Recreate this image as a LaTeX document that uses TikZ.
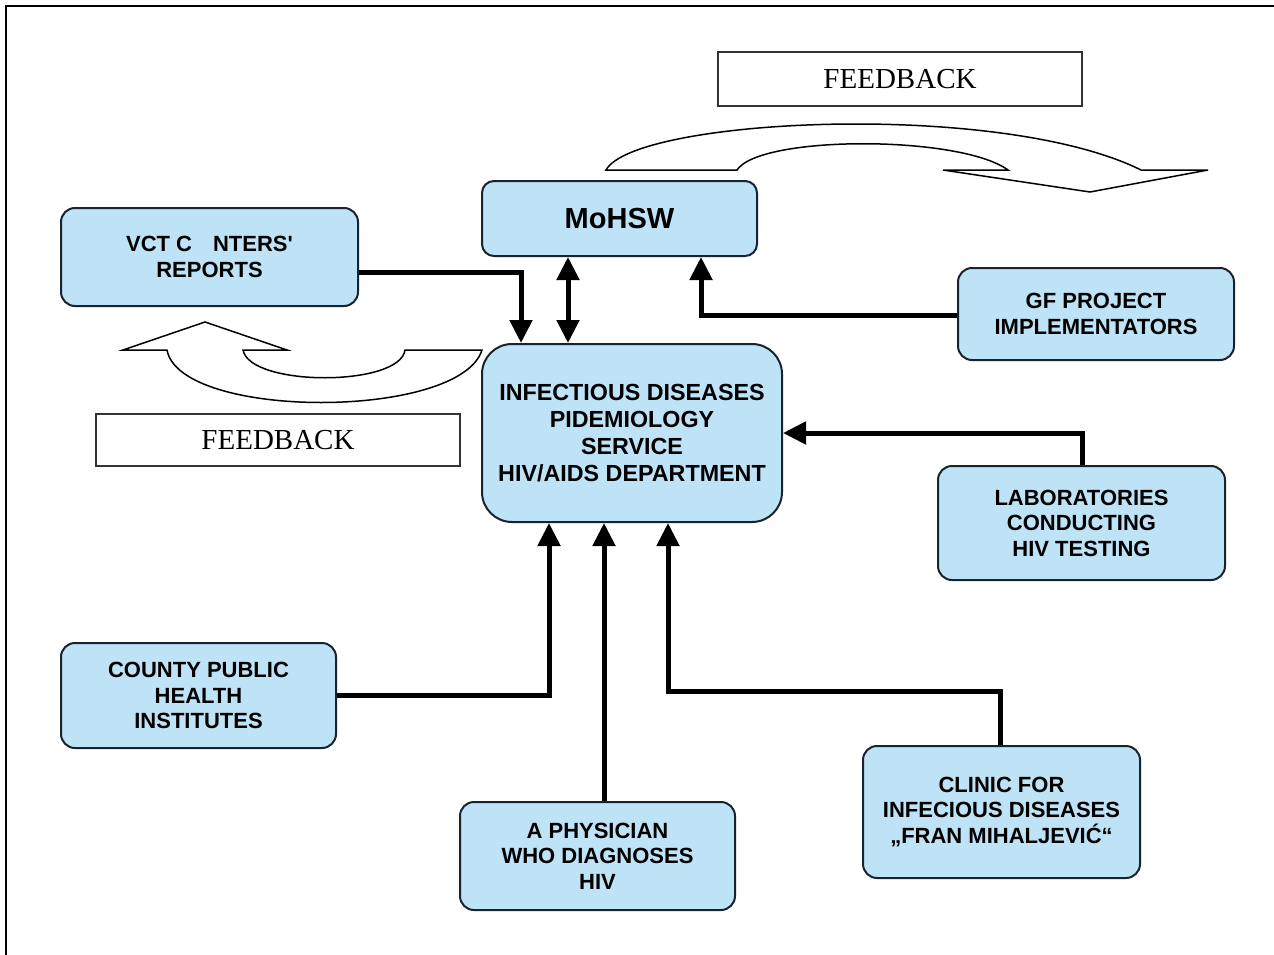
\documentclass[tikz,border=0pt]{standalone}
\usepackage{fontspec}
\setmainfont{Liberation Sans}
\newfontfamily\rawsans{Liberation Sans}
\newfontfamily\fbfont{Liberation Serif}
\usetikzlibrary{arrows.meta}
\definecolor{boxfill}{RGB}{190,227,247}
\definecolor{boxline}{RGB}{25,35,45}
\tikzset{
  box/.style={draw=boxline, line width=2pt, fill=boxfill, rounded corners=14pt, align=center, inner sep=0pt,
    font=\fontsize{22}{25.5}\selectfont\bfseries},
  fbbox/.style={draw=black!80, line width=1.2pt, fill=white, inner sep=0pt, font=\fbfont\fontsize{29}{32}\selectfont},
  conn/.style={line width=5pt, -{Triangle[length=23pt,width=22pt]}},
  conn2/.style={line width=5pt, {Triangle[length=23pt,width=22pt]}-{Triangle[length=23pt,width=22pt]}},
  fbarrow/.style={draw=black, line width=1.5pt, fill=white, line join=miter}
}
\begin{document}
\begin{tikzpicture}[x=1pt,y=-1pt]
\useasboundingbox (0,0) rectangle (1274,955);
% frame
\draw[line width=2pt] (6,960) -- (6,6) -- (1280,6);

% feedback labels
\node[fbbox, minimum width=364pt, minimum height=54pt] (fbtop) at (900,79) {FEEDBACK};
\node[fbbox, minimum width=364pt, minimum height=52pt] (fbleft) at (278,440) {FEEDBACK};

% top curved feedback arrow
\path[fbarrow] (606,170) .. controls (635,118) and (1000,100) .. (1141,170)
  -- (1208,170) -- (1090,192) -- (943,170) -- (1008,170)
  .. controls (960,135) and (760,135) .. (737,170) -- cycle;

% left curved feedback arrow
\path[fbarrow] (482,350) .. controls (460,420) and (180,420) .. (167,350)
  -- (123,350) -- (205,322) -- (287,350) -- (243,350)
  .. controls (250,387) and (400,387) .. (405,350) -- cycle;

% boxes
\node[box, rounded corners=12pt, minimum width=275pt, minimum height=75pt,
  font=\fontsize{29}{32}\selectfont\bfseries] (moh) at (619.5,218.5) {MoHSW};
\node[box, minimum width=297pt, minimum height=98pt] (vct) at (209.5,257) {VCT C\hspace{0.95em}NTERS{\rawsans\bfseries '}\\REPORTS};
\node[box, rounded corners=30pt, minimum width=300pt, minimum height=178pt,
  font=\fontsize{23.3}{27}\selectfont\bfseries] (inf) at (632,433)
  {INFECTIOUS DISEASES\\PIDEMIOLOGY\\SERVICE\\HIV/AIDS DEPARTMENT};
\node[box, minimum width=276pt, minimum height=92pt] (gf) at (1096,314) {GF PROJECT\\IMPLEMENTATORS};
\node[box, minimum width=287pt, minimum height=114pt] (labs) at (1081.5,523) {LABORATORIES\\CONDUCTING\\HIV TESTING};
\node[box, minimum width=275pt, minimum height=105pt] (county) at (198.5,695.5) {COUNTY PUBLIC\\HEALTH\\INSTITUTES};
\node[box, minimum width=275pt, minimum height=108pt] (phys) at (597.5,856) {A PHYSICIAN\\WHO DIAGNOSES\\HIV};
\node[box, minimum width=277pt, minimum height=132pt] (clinic) at (1001.5,812) {CLINIC FOR\\INFECIOUS DISEASES\\„FRAN MIHALJEVIĆ“};

% connectors
\draw[conn] ([yshift=-15pt]vct.east) -| ([xshift=-111pt]inf.north);
\draw[conn2] ([xshift=-51.5pt]moh.south) -- ([xshift=-64pt]inf.north);
\draw[conn] ([yshift=-1pt]gf.west) -| ([xshift=81.5pt]moh.south);
\draw[conn] ([xshift=0.5pt]labs.north) |- (inf.east);
\draw[conn] (county.east) -| ([xshift=-83pt]inf.south);
\draw[conn] ([xshift=6.5pt]phys.north) -- ([xshift=-28pt]inf.south);
\draw[conn] ([xshift=-1.5pt]clinic.north) -- ++(0,-54) -| ([xshift=36pt]inf.south);
\end{tikzpicture}
\end{document}
